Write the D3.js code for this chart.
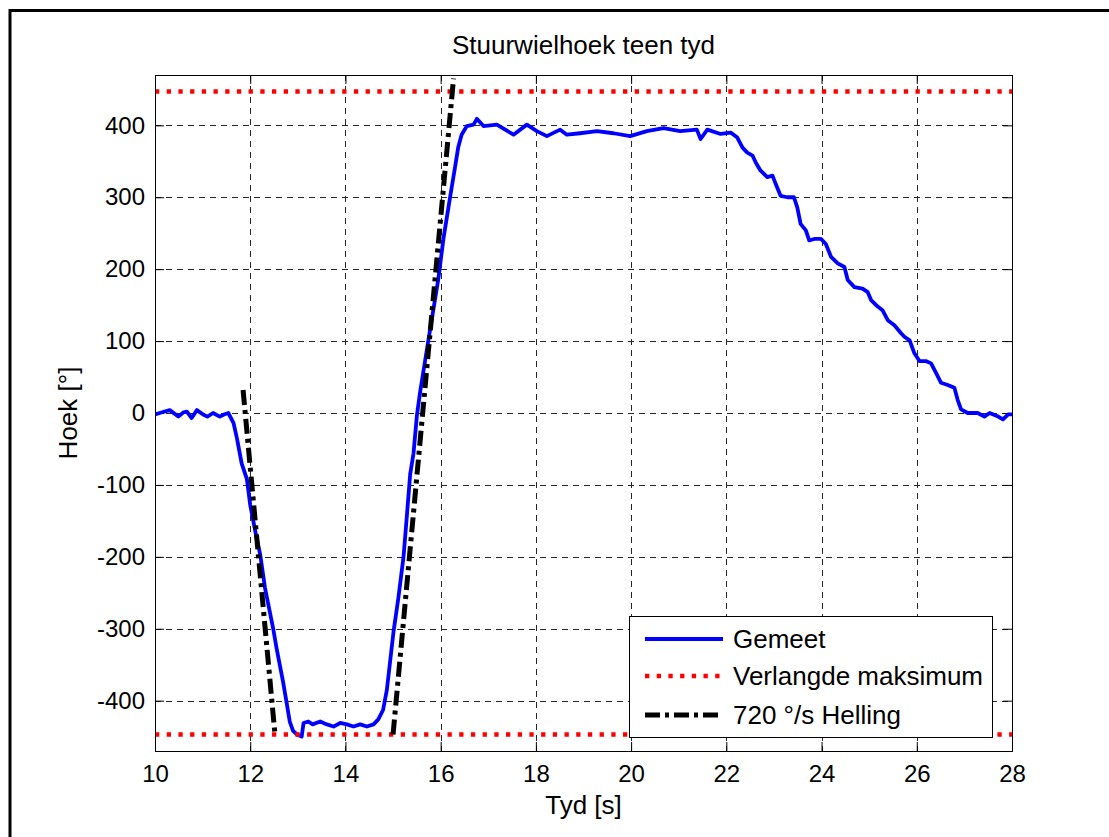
<!DOCTYPE html>
<html>
<head>
<meta charset="utf-8">
<script src="https://cdn.jsdelivr.net/npm/d3@7"></script>
<style>
  body { margin: 0; background: #fff; }
  svg text { font-family: Arial, "Liberation Sans", Helvetica, sans-serif; fill: #000; }
</style>
</head>
<body>
<svg id="chart" width="1109" height="837"></svg>
<script>
// ---------- data ----------
const title = "Stuurwielhoek teen tyd";
const xLabel = "Tyd [s]";
const yLabel = "Hoek [°]";
const xTicks = [10, 12, 14, 16, 18, 20, 22, 24, 26, 28];
const yTicks = [-400, -300, -200, -100, 0, 100, 200, 300, 400];
const legendLabels = ["Gemeet", "Verlangde maksimum", "720 °/s Helling"];

// measured steering wheel angle (Gemeet)
const measTime = [10.0, 10.15, 10.31, 10.49, 10.6, 10.67, 10.77, 10.88, 11.01, 11.1, 11.22, 11.36, 11.45, 11.54,
  11.65, 11.72, 11.82, 11.93, 12.0, 12.12, 12.21, 12.31, 12.48, 12.55, 12.69, 12.76, 12.83, 12.9, 12.98, 13.08,
  13.12, 13.22, 13.31, 13.47, 13.61, 13.75, 13.89, 14.03, 14.17, 14.31, 14.45, 14.59, 14.69, 14.79, 14.87,
  15.01, 15.11, 15.22, 15.29, 15.36, 15.43, 15.50, 15.57, 15.71, 15.78, 15.85, 15.95, 16.06, 16.13, 16.20,
  16.30, 16.37, 16.44, 16.55, 16.69, 16.76, 16.9, 17.18, 17.53, 17.81, 18.02, 18.23, 18.51, 18.65, 18.93,
  19.28, 19.63, 19.98, 20.33, 20.68, 21.03, 21.38, 21.46, 21.6, 21.88, 22.09, 22.23, 22.34, 22.44, 22.55,
  22.62, 22.72, 22.86, 22.97, 23.04, 23.14, 23.28, 23.42, 23.49, 23.56, 23.67, 23.74, 23.85, 23.99, 24.09,
  24.2, 24.34, 24.48, 24.55, 24.69, 24.86, 24.97, 25.04, 25.18, 25.28, 25.39, 25.53, 25.67, 25.74, 25.85,
  25.95, 26.06, 26.2, 26.3, 26.41, 26.51, 26.65, 26.79, 26.86, 26.93, 27.07, 27.28, 27.42, 27.53, 27.71,
  27.81, 27.92, 28.0];
const measAngle = [-2, 1, 4, -5, 1, 2, -7, 4, -2, -5, 0, -5, -2, 0,
  -14, -35, -70, -92, -128, -169, -197, -243, -299, -326, -374, -401, -429, -442, -447, -450,
  -431, -429, -433, -429, -433, -436, -431, -433, -436, -433, -436, -433, -426, -413, -385,
  -304, -258, -200, -143, -85, -56, -4, 30, 88, 117, 145, 186, 243, 272, 301,
  341, 370, 387, 399, 401, 409, 399, 401, 387, 401, 392, 385, 394, 387, 389,
  392, 389, 385, 392, 396, 392, 394, 381, 394, 388, 390, 383, 369, 362, 358,
  348, 337, 328, 330, 318, 302, 300, 300, 286, 263, 254, 240, 242, 242, 235,
  217, 208, 203, 185, 175, 173, 168, 157, 148, 143, 129, 122, 111, 106, 101,
  83, 72, 72, 69, 55, 42, 39, 35, 18, 5, 0, 0, -5, 0, -5,
  -9, -2, -2];

// required maximum (Verlangde maksimum)
const limitTime = [10, 28];
const limitUpper = [447, 447];
const limitLower = [-447, -447];

// 720 deg/s slope lines (Helling)
const slope1Time = [11.85, 12.52];
const slope1Angle = [32, -447];
const slope2Time = [15.0, 16.27];
const slope2Angle = [-447, 465];

// ---------- layout ----------
const svg = d3.select("#chart");
const L = 155, R = 1012, T = 75, B = 751;
const FS = 26, TFS = 24;

const x = d3.scaleLinear().domain([10, 28]).range([L, R]);
const y = d3.scaleLinear().domain([-470, 470]).range([B, T]);

// outer figure frame
svg.append("rect").attr("x", 10).attr("y", 10.5).attr("width", 1200).attr("height", 1000)
  .attr("fill", "none").attr("stroke", "#000").attr("stroke-width", 3);

// clip
svg.append("defs").append("clipPath").attr("id", "clip")
  .append("rect").attr("x", L).attr("y", T).attr("width", R - L).attr("height", B - T);

// grid
const grid = svg.append("g").attr("stroke", "#000").attr("stroke-width", 1)
  .attr("stroke-dasharray", "6,5").attr("opacity", 0.85);
grid.selectAll("line.vx").data(xTicks.filter(d => d > 10 && d < 28)).join("line")
  .attr("x1", d => Math.round(x(d)) + 0.5).attr("x2", d => Math.round(x(d)) + 0.5)
  .attr("y1", T).attr("y2", B);
grid.selectAll("line.hy").data(yTicks).join("line")
  .attr("y1", d => Math.round(y(d)) + 0.5).attr("y2", d => Math.round(y(d)) + 0.5)
  .attr("x1", L).attr("x2", R);

// axes (ticks inside)
const fmt = d => String(d);
const axB = svg.append("g").attr("transform", `translate(0,${B})`)
  .call(d3.axisBottom(x).tickValues(xTicks).tickSizeInner(-9).tickSizeOuter(0).tickPadding(14).tickFormat(fmt));
const axT = svg.append("g").attr("transform", `translate(0,${T})`)
  .call(d3.axisTop(x).tickValues(xTicks).tickSizeInner(-9).tickSizeOuter(0).tickFormat(""));
const axL = svg.append("g").attr("transform", `translate(${L},0)`)
  .call(d3.axisLeft(y).tickValues(yTicks).tickSizeInner(-9).tickSizeOuter(0).tickPadding(10).tickFormat(fmt));
const axR = svg.append("g").attr("transform", `translate(${R},0)`)
  .call(d3.axisRight(y).tickValues(yTicks).tickSizeInner(-9).tickSizeOuter(0).tickFormat(""));
[axB, axT, axL, axR].forEach(a => {
  a.select(".domain").remove();
  a.selectAll("line").attr("stroke", "#000");
  a.selectAll("text").attr("font-size", TFS).attr("font-family", "Arial, 'Liberation Sans', sans-serif");
});

// data lines
const plot = svg.append("g").attr("clip-path", "url(#clip)");
const line = d3.line().x(d => x(d[0])).y(d => y(d[1]));

plot.append("path").datum(measTime.map((t, i) => [t, measAngle[i]]))
  .attr("d", line).attr("fill", "none").attr("stroke", "#0000ff").attr("stroke-width", 3.8)
  .attr("stroke-linejoin", "round");

const redStyle = p => p.attr("fill", "none").attr("stroke", "#ff0000").attr("stroke-width", 4.5)
  .attr("stroke-dasharray", "4.3,7.4");
plot.append("path").datum(limitTime.map((t, i) => [t, limitUpper[i]])).attr("d", line).call(redStyle);
plot.append("path").datum(limitTime.map((t, i) => [t, limitLower[i]])).attr("d", line).call(redStyle);

const blackStyle = p => p.attr("fill", "none").attr("stroke", "#000").attr("stroke-width", 5)
  .attr("stroke-dasharray", "15,5,4,5");
plot.append("path").datum(slope1Time.map((t, i) => [t, slope1Angle[i]])).attr("d", line).call(blackStyle);
plot.append("path").datum(slope2Time.map((t, i) => [t, slope2Angle[i]])).attr("d", line).call(blackStyle);

// plot frame
svg.append("rect").attr("x", L + 0.5).attr("y", T + 0.5).attr("width", R - L).attr("height", B - T)
  .attr("fill", "none").attr("stroke", "#000").attr("stroke-width", 1);

// title and axis labels
svg.append("text").attr("x", (L + R) / 2).attr("y", 54).attr("text-anchor", "middle")
  .attr("font-size", FS).text(title);
svg.append("text").attr("x", (L + R) / 2).attr("y", 814).attr("text-anchor", "middle")
  .attr("font-size", FS).text(xLabel);
svg.append("text").attr("transform", `translate(77,${(T + B) / 2}) rotate(-90)`)
  .attr("text-anchor", "middle").attr("font-size", FS).text(yLabel);

// legend
const lg = svg.append("g");
lg.append("rect").attr("x", 629.5).attr("y", 616.5).attr("width", 363).attr("height", 121)
  .attr("fill", "#fff").attr("stroke", "#000").attr("stroke-width", 1);
const legY = [639, 676, 715];
const styles = [
  p => p.attr("stroke", "#0000ff").attr("stroke-width", 3.8),
  redStyle,
  blackStyle
];
legendLabels.forEach((lab, i) => {
  lg.append("line").attr("x1", 645).attr("x2", 723).attr("y1", legY[i]).attr("y2", legY[i])
    .call(styles[i]);
  lg.append("text").attr("x", 733).attr("y", legY[i] + 9).attr("font-size", FS).text(lab);
});
</script>
</body>
</html>
